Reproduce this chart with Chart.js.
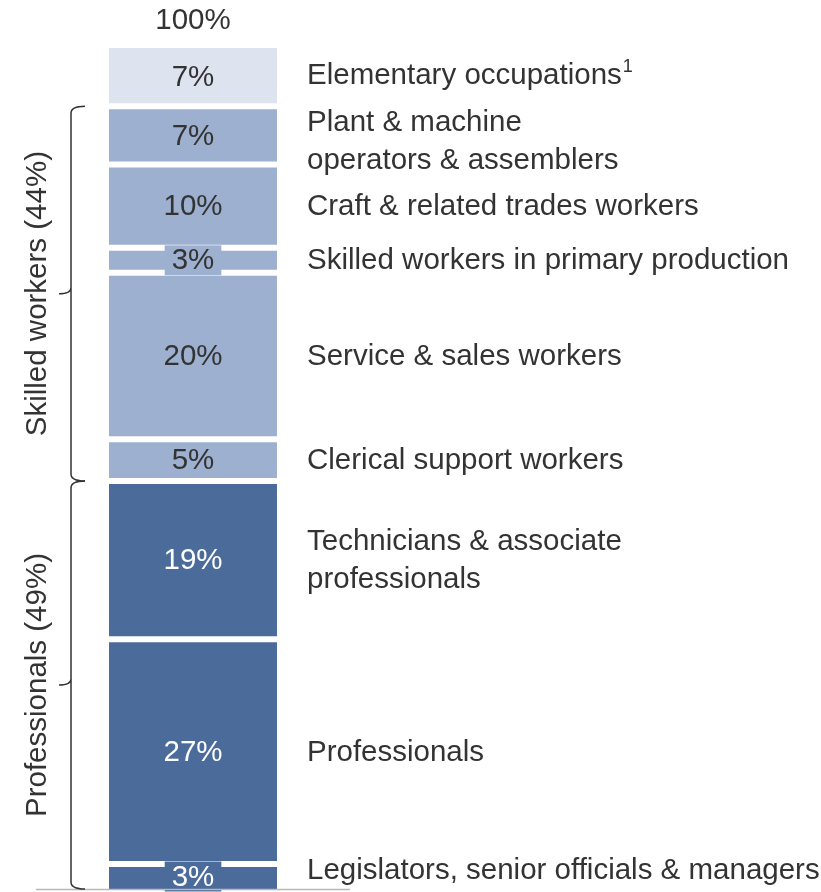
<!DOCTYPE html>
<html>
<head>
<meta charset="utf-8">
<script src="https://cdn.jsdelivr.net/npm/chart.js@4/dist/chart.umd.min.js"></script>
<style>
  body { margin: 0; background: #fff; }
  canvas { display: block; }
</style>
</head>
<body>
<canvas id="chart" width="821" height="892"></canvas>
<script>
    // bottom to top
    const categories = [
        'Legislators, senior officials & managers',
        'Professionals',
        'Technicians & associate professionals',
        'Clerical support workers',
        'Service & sales workers',
        'Skilled workers in primary production',
        'Craft & related trades workers',
        'Plant & machine operators & assemblers',
        'Elementary occupations'
    ];
    const values = [3, 27, 19, 5, 20, 3, 10, 7, 7];
    const labelLines = [
        ['Legislators, senior officials & managers'],
        ['Professionals'],
        ['Technicians & associate', 'professionals'],
        ['Clerical support workers'],
        ['Service & sales workers'],
        ['Skilled workers in primary production'],
        ['Craft & related trades workers'],
        ['Plant & machine', 'operators & assemblers'],
        ['Elementary occupations']
    ];
    const footnotes = ['', '', '', '', '', '', '', '', '1'];
    const totalLabel = '100%';

    const groupLabels = ['Professionals (49%)', 'Skilled workers (44%)'];
    const groupFrom = [0, 3];
    const groupTo = [2, 7];

    function getColor(i) {
        if (i <= 2) return '#4b6b9b';
        if (i <= 7) return '#9db0cf';
        return '#dee4ef';
    }
    function getTextColor(i) {
        return i <= 2 ? '#ffffff' : '#333333';
    }

    const FONT = '29.5px "Liberation Sans", Arial, sans-serif';
    const total = values.reduce((a, b) => a + b, 0);

    const decor = {
        id: 'decor',
        afterDatasetsDraw(chart) {
            const ctx = chart.ctx;
            const area = chart.chartArea;
            ctx.save();
            ctx.font = FONT;
            ctx.textBaseline = 'middle';

            let barLeft = 0, barRight = 0, barCx = 0;
            const seg = [];
            categories.forEach((c, i) => {
                const el = chart.getDatasetMeta(i).data[0];
                const top = Math.min(el.y, el.base), bot = Math.max(el.y, el.base);
                seg.push({ top, bot, mid: (top + bot) / 2 });
                barLeft = el.x - el.width / 2;
                barRight = el.x + el.width / 2;
                barCx = el.x;
            });

            // value labels inside the bar
            categories.forEach((c, i) => {
                const s = seg[i];
                const txt = values[i] + '%';
                const w = ctx.measureText(txt).width;
                ctx.fillStyle = getColor(i);
                ctx.fillRect(barCx - w / 2 - 7, s.mid - 15, w + 14, 30);
                ctx.fillStyle = getTextColor(i);
                ctx.textAlign = 'center';
                ctx.fillText(txt, barCx, s.mid + 1);
            });

            // total above
            ctx.fillStyle = '#333333';
            ctx.textAlign = 'center';
            ctx.fillText(totalLabel, barCx, seg[seg.length - 1].top - 27);

            // category labels on the right
            const lx = barRight + 30;
            ctx.textAlign = 'left';
            categories.forEach((c, i) => {
                const lines = labelLines[i];
                const lh = 38;
                let y0 = seg[i].mid - (lines.length - 1) * lh / 2 + 1;
                if (i === 0) y0 -= 7;
                if (i === categories.length - 1) y0 -= 2;
                if (lines.length > 1 && i > 2) y0 += 5;
                lines.forEach((ln, j) => {
                    ctx.font = FONT;
                    ctx.fillText(ln, lx, y0 + j * lh);
                    if (j === lines.length - 1 && footnotes[i]) {
                        const w = ctx.measureText(ln).width;
                        ctx.font = '18px "Liberation Sans", Arial, sans-serif';
                        ctx.fillText(footnotes[i], lx + w + 1, y0 + j * lh - 9);
                    }
                });
            });

            // baseline
            ctx.strokeStyle = '#b8b8b8';
            ctx.lineWidth = 1.5;
            ctx.beginPath();
            ctx.moveTo(area.left, area.bottom + 0.5);
            ctx.lineTo(area.right, area.bottom + 0.5);
            ctx.stroke();

            // braces + group labels
            const bx = barLeft - 38;
            ctx.strokeStyle = '#333333';
            ctx.lineWidth = 1.5;
            groupLabels.forEach((g, k) => {
                const y1 = seg[groupTo[k]].top;
                const y2 = seg[groupFrom[k]].bot;
                const mid = (y1 + y2) / 2;
                ctx.beginPath();
                ctx.moveTo(bx + 14, y1);
                ctx.quadraticCurveTo(bx, y1, bx, y1 + 7);
                ctx.lineTo(bx, mid - 6);
                ctx.quadraticCurveTo(bx, mid, bx - 12, mid);
                ctx.moveTo(bx, mid - 6);
                ctx.quadraticCurveTo(bx, mid, bx, mid + 6);
                ctx.lineTo(bx, y2 - 7);
                ctx.quadraticCurveTo(bx, y2, bx + 14, y2);
                ctx.stroke();

                ctx.save();
                ctx.translate(bx - 33, mid);
                ctx.rotate(-Math.PI / 2);
                ctx.textAlign = 'center';
                ctx.fillStyle = '#333333';
                ctx.font = FONT;
                ctx.fillText(g, 0, 0);
                ctx.restore();
            });
            ctx.restore();
        }
    };

    new Chart(document.getElementById('chart').getContext('2d'), {
        type: 'bar',
        data: {
            labels: [''],
            datasets: categories.map((c, i) => ({
                label: c,
                data: [values[i]],
                backgroundColor: getColor(i),
                borderColor: '#ffffff',
                borderWidth: {
                    top: i === categories.length - 1 ? 0 : 3,
                    bottom: i === 0 ? 0 : 3,
                    left: 0,
                    right: 0
                },
                borderSkipped: false,
                stack: 'all',
                barPercentage: 0.535,
                categoryPercentage: 1
            }))
        },
        options: {
            responsive: false,
            animation: false,
            layout: { padding: { top: 48, bottom: 3, left: 36, right: 471 } },
            plugins: {
                legend: { display: false },
                tooltip: { enabled: false }
            },
            scales: {
                x: { stacked: true, display: false },
                y: { stacked: true, display: false, min: 0, max: total }
            }
        },
        plugins: [decor]
    });
</script>
</body>
</html>
